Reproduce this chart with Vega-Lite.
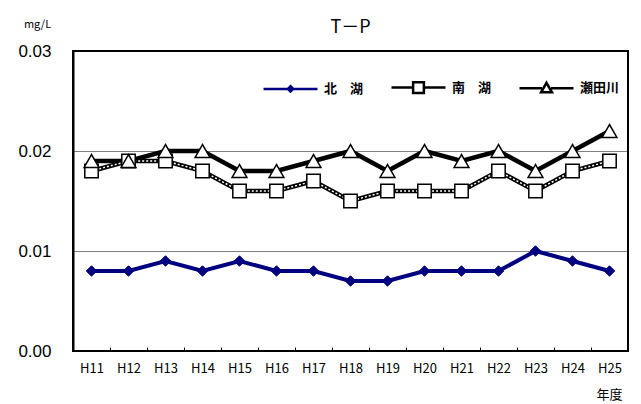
{
  "$schema": "https://vega.github.io/schema/vega-lite/v6.json",
  "width": 555,
  "height": 300,
  "autosize": "none",
  "padding": {"left": 73, "top": 51, "right": 13, "bottom": 53},
  "background": "white",
  "title": {"text": "T－P", "fontSize": 18, "font": "Noto Sans CJK JP", "fontWeight": "normal", "frame": "group", "anchor": "middle", "offset": -19},
  "config": {
    "view": {"stroke": "black", "strokeWidth": 2},
    "axis": {"labelColor": "black", "titleColor": "black"}
  },
  "data": {"values": [
    {"year": "H11", "site": "北　湖", "value": 0.008},
    {"year": "H12", "site": "北　湖", "value": 0.008},
    {"year": "H13", "site": "北　湖", "value": 0.009},
    {"year": "H14", "site": "北　湖", "value": 0.008},
    {"year": "H15", "site": "北　湖", "value": 0.009},
    {"year": "H16", "site": "北　湖", "value": 0.008},
    {"year": "H17", "site": "北　湖", "value": 0.008},
    {"year": "H18", "site": "北　湖", "value": 0.007},
    {"year": "H19", "site": "北　湖", "value": 0.007},
    {"year": "H20", "site": "北　湖", "value": 0.008},
    {"year": "H21", "site": "北　湖", "value": 0.008},
    {"year": "H22", "site": "北　湖", "value": 0.008},
    {"year": "H23", "site": "北　湖", "value": 0.010},
    {"year": "H24", "site": "北　湖", "value": 0.009},
    {"year": "H25", "site": "北　湖", "value": 0.008},
    {"year": "H11", "site": "南　湖", "value": 0.018},
    {"year": "H12", "site": "南　湖", "value": 0.019},
    {"year": "H13", "site": "南　湖", "value": 0.019},
    {"year": "H14", "site": "南　湖", "value": 0.018},
    {"year": "H15", "site": "南　湖", "value": 0.016},
    {"year": "H16", "site": "南　湖", "value": 0.016},
    {"year": "H17", "site": "南　湖", "value": 0.017},
    {"year": "H18", "site": "南　湖", "value": 0.015},
    {"year": "H19", "site": "南　湖", "value": 0.016},
    {"year": "H20", "site": "南　湖", "value": 0.016},
    {"year": "H21", "site": "南　湖", "value": 0.016},
    {"year": "H22", "site": "南　湖", "value": 0.018},
    {"year": "H23", "site": "南　湖", "value": 0.016},
    {"year": "H24", "site": "南　湖", "value": 0.018},
    {"year": "H25", "site": "南　湖", "value": 0.019},
    {"year": "H11", "site": "瀬田川", "value": 0.019},
    {"year": "H12", "site": "瀬田川", "value": 0.019},
    {"year": "H13", "site": "瀬田川", "value": 0.020},
    {"year": "H14", "site": "瀬田川", "value": 0.020},
    {"year": "H15", "site": "瀬田川", "value": 0.018},
    {"year": "H16", "site": "瀬田川", "value": 0.018},
    {"year": "H17", "site": "瀬田川", "value": 0.019},
    {"year": "H18", "site": "瀬田川", "value": 0.020},
    {"year": "H19", "site": "瀬田川", "value": 0.018},
    {"year": "H20", "site": "瀬田川", "value": 0.020},
    {"year": "H21", "site": "瀬田川", "value": 0.019},
    {"year": "H22", "site": "瀬田川", "value": 0.020},
    {"year": "H23", "site": "瀬田川", "value": 0.018},
    {"year": "H24", "site": "瀬田川", "value": 0.020},
    {"year": "H25", "site": "瀬田川", "value": 0.022}
  ]},
  "encoding": {
    "x": {
      "field": "year", "type": "ordinal", "bandPosition": 0.5,
      "scale": {"type": "band", "paddingInner": 0, "paddingOuter": 0},
      "axis": {
        "title": "年度", "titleFont": "Noto Sans CJK JP", "titleFontSize": 13, "titleFontWeight": "normal",
        "titleX": 549, "titleY": 47, "titleAlign": "right", "titleBaseline": "middle", "titleAnchor": null,
        "labelAngle": 0, "labelFont": "Noto Sans CJK JP", "labelFontSize": 13, "labelPadding": 11,
        "offset": -4, "domain": false,
        "ticks": true, "tickBand": "extent", "tickSize": 4, "tickColor": "black", "tickWidth": 1, "tickOpacity": 1,
        "grid": false, "zindex": 1
      }
    },
    "y": {
      "field": "value", "type": "quantitative",
      "scale": {"domain": [0, 0.03], "nice": false},
      "axis": {
        "title": "mg/L", "titleAngle": 0, "titleX": -36, "titleY": -27, "titleAlign": "center", "titleBaseline": "middle",
        "titleFont": "Noto Sans CJK JP", "titleFontSize": 11, "titleFontWeight": "normal",
        "values": [0, 0.01, 0.02, 0.03], "format": ".2f",
        "labelFont": "Liberation Sans", "labelFontSize": 17, "labelPadding": 22,
        "ticks": false, "domainColor": "black", "domainWidth": 2,
        "grid": true, "gridColor": "black", "gridDash": [1, 1], "gridWidth": 1, "gridOpacity": 1
      }
    }
  },
  "layer": [
    {
      "transform": [{"filter": "datum.site === '北　湖'"}],
      "mark": {"type": "line", "strokeWidth": 4, "color": "#000080"}
    },
    {
      "transform": [{"filter": "datum.site !== '北　湖'"}],
      "mark": {"type": "line", "strokeWidth": 4.5, "color": "black"},
      "encoding": {"detail": {"field": "site", "type": "nominal"}}
    },
    {
      "transform": [{"filter": "datum.site === '南　湖'"}],
      "mark": {"type": "line", "strokeWidth": 1.5, "color": "white", "strokeDash": [2, 2]}
    },
    {
      "transform": [{"filter": "datum.site === '北　湖'"}],
      "mark": {"type": "point", "shape": "diamond", "size": 110, "filled": true, "fill": "#000080", "stroke": "#000080", "strokeWidth": 1, "opacity": 1}
    },
    {
      "transform": [{"filter": "datum.site === '南　湖'"}],
      "mark": {"type": "point", "shape": "square", "size": 180, "filled": true, "fill": "white", "stroke": "black", "strokeWidth": 1.5, "opacity": 1}
    },
    {
      "transform": [{"filter": "datum.site === '瀬田川'"}],
      "mark": {"type": "point", "shape": "triangle-up", "size": 220, "filled": true, "fill": "white", "stroke": "black", "strokeWidth": 1.5, "opacity": 1}
    },
    {
      "mark": {"type": "point", "filled": true, "opacity": 0},
      "encoding": {
        "shape": {"field": "site", "type": "nominal",
          "scale": {"domain": ["北　湖", "南　湖", "瀬田川"], "range": [
            "M-1,0L1,0M0,-0.1L0.1,0L0,0.1L-0.1,0Z",
            "M-1,0L-0.2,0M0.2,0L1,0M-0.2,-0.2L0.2,-0.2L0.2,0.2L-0.2,0.2Z",
            "M-1,0L-0.17,0M0.17,0L1,0M0,-0.2L0.2,0.15L-0.2,0.15Z"
          ]},
          "legend": {
            "title": null, "orient": "top-right", "direction": "horizontal", "offset": 8,
            "symbolSize": 2916, "symbolStrokeWidth": 2.5, "labelOffset": 5, "columnPadding": 22,
            "labelFont": "Noto Sans CJK JP", "labelFontSize": 13, "labelFontWeight": "bold", "labelColor": "black",
            "encode": {"symbols": {"update": {"opacity": {"value": 1}, "fillOpacity": {"value": 1}, "strokeOpacity": {"value": 1}}}}
          }
        },
        "fill": {"field": "site", "type": "nominal",
          "scale": {"domain": ["北　湖", "南　湖", "瀬田川"], "range": ["#000080", "white", "white"]}},
        "stroke": {"field": "site", "type": "nominal",
          "scale": {"domain": ["北　湖", "南　湖", "瀬田川"], "range": ["#000080", "black", "black"]}}
      }
    }
  ]
}
